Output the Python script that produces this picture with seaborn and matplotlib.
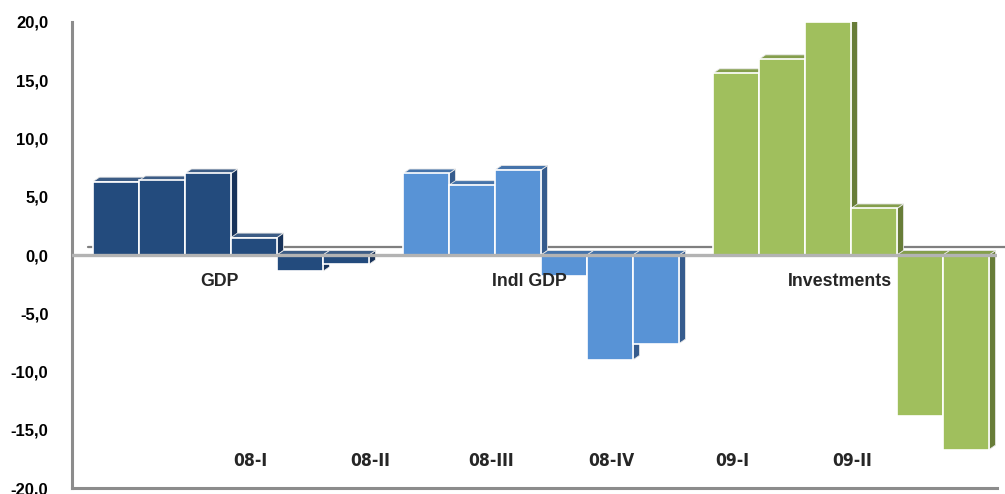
import matplotlib
matplotlib.use("Agg")
import matplotlib.pyplot as plt
from matplotlib.patches import Polygon
import pandas as pd
import seaborn as sns

# Growth rates, % (six readings per indicator)
groups = ["GDP", "Indl GDP", "Investments"]
gdp = [6.3, 6.4, 7.0, 1.5, -1.4, -0.8]
indl_gdp = [7.0, 6.0, 7.3, -1.8, -9.0, -7.6]
investments = [15.6, 16.8, 20.0, 4.0, -13.8, -16.7]
quarters = ["08-I", "08-II", "08-III", "08-IV", "09-I", "09-II"]
y_ticks = [-20, -15, -10, -5, 0, 5, 10, 15, 20]

front_colors = {"GDP": "#234B7D", "Indl GDP": "#5893D6", "Investments": "#A0BF5D"}
side_colors = {"GDP": "#18335A", "Indl GDP": "#365C8E", "Investments": "#687D38"}
top_colors = {"GDP": "#3C5C85", "Indl GDP": "#4573AA", "Investments": "#849E4C"}

sns.set_style("white")
plt.rcParams["font.family"] = ["Liberation Sans", "DejaVu Sans"]

series = [gdp, indl_gdp, investments]
group_step = 6.74
rows = []
for g, (name, vals) in enumerate(zip(groups, series)):
    for i, v in enumerate(vals):
        rows.append({"pos": g * group_step + i, "value": v, "group": name})
df = pd.DataFrame(rows)

fig = plt.figure(figsize=(10.05, 4.94), dpi=100)
ax = fig.add_axes([72 / 1005, 6 / 494, 925 / 1005, 466 / 494])

sns.barplot(data=df, x="pos", y="value", hue="group", palette=front_colors,
            saturation=1, native_scale=True, dodge=False, width=1.0,
            edgecolor="white", linewidth=1.2, legend=False, ax=ax, zorder=3)

# depth of the pseudo-3D bars, in data units
dx, dy = 0.14, 0.38

for p in list(ax.patches):
    x0, w = p.get_x(), p.get_width()
    y0, h = p.get_y(), p.get_height()
    top, bottom = max(y0, y0 + h), min(y0, y0 + h)
    gi = int((x0 + w / 2) // group_step)
    gname = groups[min(gi, 2)]
    side = Polygon([(x0 + w, bottom), (x0 + w + dx, bottom + dy),
                    (x0 + w + dx, top + dy), (x0 + w, top)],
                   closed=True, facecolor=side_colors[gname],
                   edgecolor="#E6E6E6", linewidth=0.6, zorder=2)
    lid = Polygon([(x0, top), (x0 + w, top), (x0 + w + dx, top + dy),
                   (x0 + dx, top + dy)],
                  closed=True, facecolor=top_colors[gname],
                  edgecolor="#E6E6E6", linewidth=0.6, zorder=2)
    ax.add_patch(side)
    ax.add_patch(lid)

xmin = -0.957
xmax = xmin + 925 / 46
ax.set_xlim(xmin, xmax)
ax.set_ylim(-20, 20)

# floor lines: back edge and front zero line
ax.plot([-0.6, xmax + 0.3], [0.65, 0.65], color="#7F7F7F", lw=1.6,
        zorder=1, clip_on=False)
ax.axhline(0, color="#B3B3B3", lw=2.4, zorder=4)

ax.set_yticks(y_ticks)
ax.set_yticklabels([f"{v:.1f}".replace(".", ",") for v in y_ticks],
                   fontsize=12, fontweight="bold")
ax.set_xticks([])
ax.set_xlabel("")
ax.set_ylabel("")
ax.tick_params(axis="y", length=0, pad=17, labelcolor="black")

for s in ["top", "right"]:
    ax.spines[s].set_visible(False)
for s in ["left", "bottom"]:
    ax.spines[s].set_color("#8C8C8C")
    ax.spines[s].set_linewidth(2.2)

# indicator names under the zero line
for g, name in enumerate(groups):
    ax.text(g * group_step + 2.5 - 0.25, -2.3, name, ha="center", va="center",
            fontsize=12.8, fontweight="bold", zorder=5)

# period labels
for i, q in enumerate(quarters):
    ax.text(2.91 + 2.62 * i, -17.7, q, ha="center", va="center",
            fontsize=12.5, fontweight="bold", fontstretch="condensed",
            family=["DejaVu Sans"], zorder=5)

fig.savefig("out.png", dpi=100)
